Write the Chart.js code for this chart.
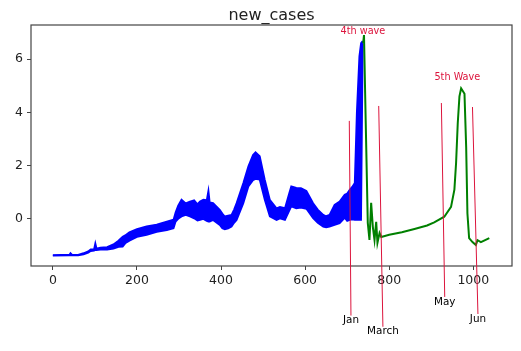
<!DOCTYPE html>
<html>
<head>
<meta charset="utf-8">
<script src="https://cdn.jsdelivr.net/npm/chart.js@4.4.1/dist/chart.umd.min.js"></script>
<style>
html,body{margin:0;padding:0;background:#fff;}
canvas{display:block;}
</style>
</head>
<body>
<canvas id="c" width="521" height="351"></canvas>
<script>
// ---- data ----
const titleText = "new_cases";
const xTickValues = [0, 200, 400, 600, 800, 1000];
const yTickValues = [0, 2, 4, 6];

// blue series: the daily values swing strongly week to week, so it is
// given as its upper and lower envelope
const blueDays = [0,40,42,46,60,73,84,90,98,101,104,113,129,144,156,166,172,182,200,223,247,271,287,292,298,306,316,326,336,344,350,358,366,370,373,381,397,403,409,417,425,431,437,453,465,476,482,492,504,516,532,540,552,562,567,579,590,603,619,630,643,650,658,670,682,694,700,706,712,718,723,729,733,737];
const blueHigh = [-1.36,-1.34,-1.29,-1.35,-1.35,-1.29,-1.22,-1.15,-1.14,-0.92,-1.12,-1.08,-1.06,-0.96,-0.82,-0.67,-0.62,-0.50,-0.38,-0.28,-0.22,-0.10,-0.03,0.25,0.50,0.72,0.58,0.65,0.70,0.55,0.65,0.72,0.70,1.06,0.62,0.59,0.34,0.20,0.09,0.12,0.15,0.35,0.59,1.35,1.97,2.40,2.50,2.35,1.47,0.72,0.40,0.45,0.40,0.95,1.22,1.16,1.15,1.05,0.59,0.35,0.15,0.10,0.15,0.53,0.65,0.91,0.95,1.09,1.20,1.35,4.00,6.10,6.60,6.68];
const blueLow = [-1.38,-1.37,-1.37,-1.37,-1.37,-1.33,-1.27,-1.21,-1.19,-1.16,-1.17,-1.15,-1.15,-1.12,-1.05,-1.04,-0.92,-0.82,-0.68,-0.60,-0.49,-0.42,-0.35,-0.10,0.00,0.09,0.15,0.09,0.02,-0.06,-0.04,0.00,-0.08,-0.10,-0.10,-0.04,-0.23,-0.35,-0.39,-0.36,-0.29,-0.15,-0.04,0.59,1.22,1.45,1.50,1.47,0.72,0.09,-0.04,0.02,-0.04,0.30,0.47,0.40,0.42,0.38,0.03,-0.15,-0.29,-0.32,-0.29,-0.23,-0.16,0.04,-0.08,-0.04,-0.02,-0.04,-0.04,-0.04,-0.04,6.68];

const greenDays = [738,740,744,749,753,757,761,765,769,772,777,781,800,830,860,890,907,931,947,955,959,963,967,971,975,979,983,986,990,998,1006,1010,1018,1038];
const greenCases = [6.6,6.9,3.7,-0.15,-0.79,0.6,-0.3,-0.79,-0.11,-0.9,-0.53,-0.68,-0.6,-0.5,-0.38,-0.25,-0.13,0.08,0.45,1.1,2.1,3.6,4.6,4.9,4.8,4.7,2.7,0.2,-0.72,-0.87,-0.98,-0.8,-0.87,-0.72];

// annotations: label, point (x,y) and text position (x,y) in data units
const noteLabels = ["Jan", "March", "May", "Jun"];
const notePointX = [705, 775, 924, 998];
const notePointY = [3.68, 4.24, 4.35, 4.2];
const noteTextX = [709, 785, 932, 1011];
const noteTextY = [-3.82, -4.24, -3.12, -3.76];

const waveLabels = ["4th wave", "5th Wave"];
const waveX = [737.5, 962];
const waveY = [7.03, 5.32];

const xMin = -52, xMax = 1092, yMin = -1.77, yMax = 7.28;

// ---- chart ----
const FONT = "DejaVu Sans";
const AXIS = "#444";

const overlay = {
  id: 'overlay',
  afterDraw(chart) {
    const ctx = chart.ctx, a = chart.chartArea;
    const xs = chart.scales.x, ys = chart.scales.y;
    ctx.save();
    ctx.strokeStyle = AXIS;
    ctx.lineWidth = 1.2;
    ctx.strokeRect(a.left, a.top, a.right - a.left, a.bottom - a.top);
    ctx.fillStyle = "#222";
    ctx.font = "16px '" + FONT + "'";
    ctx.textAlign = "center";
    ctx.textBaseline = "middle";
    ctx.fillText(titleText, (a.left + a.right) / 2, a.top - 9);
    ctx.font = "10.4px '" + FONT + "'";
    for (let i = 0; i < noteLabels.length; i++) {
      const px = xs.getPixelForValue(notePointX[i]);
      const py = ys.getPixelForValue(notePointY[i]);
      const tx = xs.getPixelForValue(noteTextX[i]);
      const ty = ys.getPixelForValue(noteTextY[i]);
      ctx.strokeStyle = "crimson";
      ctx.lineWidth = 1;
      ctx.beginPath();
      ctx.moveTo(px, py);
      ctx.lineTo(tx, ty - 5);
      ctx.stroke();
      ctx.fillStyle = "#000";
      ctx.fillText(noteLabels[i], tx, ty);
    }
    ctx.font = "9.7px '" + FONT + "'";
    ctx.fillStyle = "crimson";
    for (let i = 0; i < waveLabels.length; i++) {
      ctx.fillText(waveLabels[i], xs.getPixelForValue(waveX[i]), ys.getPixelForValue(waveY[i]));
    }
    ctx.restore();
  }
};

new Chart(document.getElementById('c'), {
  type: 'line',
  data: {
    datasets: [
      {
        data: greenDays.map((d, i) => ({x: d, y: greenCases[i]})),
        borderColor: 'green', borderWidth: 2, pointRadius: 0, tension: 0, fill: false
      },
      {
        data: blueDays.map((d, i) => ({x: d, y: blueHigh[i]})),
        borderColor: 'blue', borderWidth: 1.8, pointRadius: 0, tension: 0, fill: false
      },
      {
        data: blueDays.map((d, i) => ({x: d, y: blueLow[i]})),
        borderColor: 'blue', borderWidth: 1.8, pointRadius: 0, tension: 0,
        fill: '-1', backgroundColor: 'blue'
      }
    ]
  },
  options: {
    responsive: false,
    animation: false,
    events: [],
    layout: {padding: {top: 25, right: 9, left: 0, bottom: 0}},
    plugins: {legend: {display: false}, tooltip: {enabled: false}, title: {display: false}},
    scales: {
      x: {
        type: 'linear', min: xMin, max: xMax,
        afterBuildTicks: s => { s.ticks = xTickValues.map(v => ({value: v})); },
        afterFit: s => { s.height = 85; },
        grid: {display: true, drawOnChartArea: false, drawTicks: true, tickLength: 4, color: AXIS},
        border: {display: false},
        ticks: {font: {family: FONT, size: 12.5}, color: '#222', padding: 3, maxRotation: 0, autoSkip: false,
                callback: v => String(v)}
      },
      y: {
        type: 'linear', min: yMin, max: yMax,
        afterBuildTicks: s => { s.ticks = yTickValues.map(v => ({value: v})); },
        afterFit: s => { s.width = 31; },
        grid: {display: true, drawOnChartArea: false, drawTicks: true, tickLength: 4, color: AXIS},
        border: {display: false},
        ticks: {font: {family: FONT, size: 12.5}, color: '#222', padding: 4, autoSkip: false,
                callback: v => String(v)}
      }
    }
  },
  plugins: [overlay]
});
</script>
</body>
</html>
